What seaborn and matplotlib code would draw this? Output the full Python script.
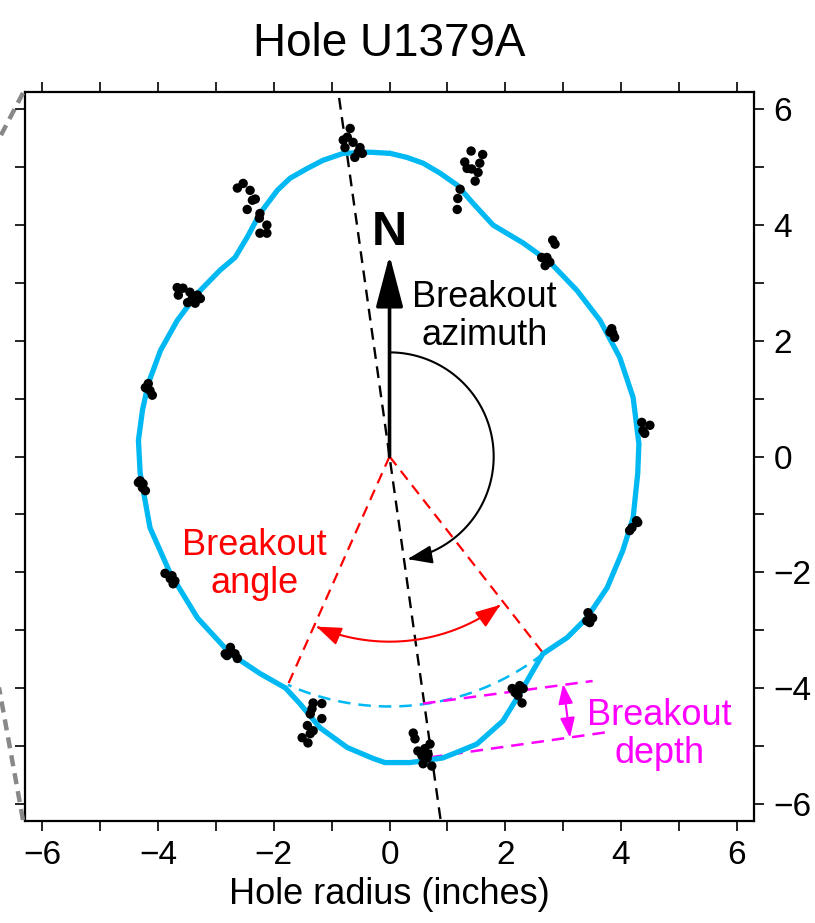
import numpy as np
import pandas as pd
import matplotlib
matplotlib.use("Agg")
import matplotlib.pyplot as plt
import seaborn as sns
from matplotlib.patches import FancyArrowPatch
from matplotlib.path import Path
from matplotlib.lines import Line2D

# ---------------- data (inches) ----------------
outline_x = [0.01, 0.30, 0.58, 0.87, 1.17, 1.44, 1.79, 2.31, 2.77, 3.24, 3.64, 3.98, 4.21,
             4.31, 4.29, 4.21, 4.03, 3.76, 3.41, 3.07, 2.65, 2.48, 2.25, 1.96, 1.51, 1.22,
             0.92, 0.58, 0.35, -0.08, -0.28, -0.73, -1.20, -1.55, -1.80, -2.24, -2.75,
             -3.32, -3.79, -4.14, -4.31, -4.34, -4.27, -4.17, -3.96, -3.67, -3.32, -2.93,
             -2.67, -2.46, -2.24, -1.94, -1.72, -1.42, -1.15, -0.80, -0.34, 0.01]
outline_y = [5.24, 5.17, 5.07, 4.90, 4.69, 4.38, 4.00, 3.69, 3.36, 2.87, 2.35, 1.71, 1.02,
             0.22, -0.29, -1.06, -1.63, -2.27, -2.79, -3.13, -3.41, -3.70, -4.10, -4.57,
             -4.97, -5.09, -5.21, -5.26, -5.29, -5.29, -5.22, -5.03, -4.69, -4.27, -4.00,
             -3.75, -3.41, -2.79, -2.02, -1.23, -0.29, 0.28, 0.80, 1.26, 1.83, 2.35, 2.82,
             3.22, 3.44, 3.79, 4.20, 4.60, 4.81, 4.98, 5.12, 5.24, 5.26, 5.24]

dots_x = [-0.68, -0.73, -0.63, -0.77, -0.51, -0.54, -0.60, -0.47, -0.80,
          -2.53, -2.63, -2.41, -2.37, -2.32, -2.46, -2.24, -2.25, -2.12, -2.24, -2.12,
          -3.67, -3.57, -3.45, -3.65, -3.49, -3.36, -3.27, -3.32, -3.41,
          -4.17, -4.22, -4.14, -4.10, -4.19,
          1.41, 1.61, 1.30, 1.56, 1.34, 1.42, 1.53, 1.48, 1.22, 1.18, 1.17,
          2.82, 2.86, 2.63, 2.72, 2.77, 2.69, 2.72,
          3.84, 3.86, 3.81, 3.89,
          4.36, 4.50, 4.38, 4.41,
          -4.31, -4.27, -4.26, -4.22, -4.34,
          -3.88, -3.76, -3.71, -3.74, -3.79,
          -2.75, -2.81, -2.67, -2.63, -2.72, -2.84,
          -1.32, -1.17, -1.34, -1.37, -1.17, -1.42, -1.32, -1.37, -1.51, -1.41,
          4.27, 4.19, 4.15, 4.29,
          3.43, 3.51, 3.46, 3.41,
          2.12, 2.25, 2.17, 2.22, 2.29, 2.31,
          0.41, 0.44, 0.49, 0.61, 0.70, 0.56, 0.65, 0.58, 0.73, 0.66]
dots_y = [5.67, 5.52, 5.43, 5.34, 5.34, 5.26, 5.17, 5.24, 5.47,
          4.72, 4.64, 4.60, 4.43, 4.45, 4.27, 4.20, 4.12, 4.00, 3.86, 3.86,
          2.92, 2.91, 2.84, 2.79, 2.66, 2.65, 2.73, 2.79, 2.73,
          1.26, 1.19, 1.14, 1.06, 1.18,
          5.28, 5.22, 5.09, 5.07, 4.98, 4.97, 4.91, 4.76, 4.62, 4.46, 4.27,
          3.74, 3.67, 3.44, 3.39, 3.36, 3.30, 3.44,
          2.21, 2.13, 2.15, 2.06,
          0.59, 0.54, 0.45, 0.40,
          -0.42, -0.54, -0.47, -0.59, -0.45,
          -2.02, -2.06, -2.15, -2.20, -2.11,
          -3.30, -3.44, -3.41, -3.49, -3.39, -3.41,
          -4.26, -4.27, -4.36, -4.45, -4.53, -4.65, -4.74, -4.79, -4.86, -4.95,
          -1.11, -1.23, -1.28, -1.14,
          -2.70, -2.79, -2.87, -2.84,
          -4.01, -3.96, -4.08, -4.13, -4.26, -4.01,
          -4.78, -4.88, -5.09, -5.05, -4.97, -5.17, -5.21, -5.31, -5.35, -5.14]

breakout_azimuth = 172.0          # degrees clockwise from north
breakout_edges = [142.0, 204.0]   # edges of breakout (degrees)
nominal_radius = 4.32             # inches
angle_arrow_radius = 3.2
azimuth_arrow_radius = 1.8
north_arrow_length = 3.48
depth_upper_x = [0.58, 3.51]
depth_upper_y = [-4.27, -3.88]
depth_lower_x = [0.70, 3.72]
depth_lower_y = [-5.20, -4.77]
depth_arrow_x = [3.00, 3.12]
depth_arrow_y = [-3.93, -4.86]

ticks = list(range(-6, 7))
tick_labels = [("\u2212" + str(abs(t)) if t < 0 else str(t)) if t % 2 == 0 else "" for t in ticks]

BLUE = "#00B8F2"
RED = "#FF0000"
MAGENTA = "#FF00FF"


def polar(az_deg, r):
    a = np.deg2rad(np.asarray(az_deg, dtype=float))
    return r * np.sin(a), r * np.cos(a)


# ---------------- style ----------------
sns.set_theme(style="ticks")
plt.rcParams["font.family"] = ["Liberation Sans", "DejaVu Sans"]
plt.rcParams["axes.unicode_minus"] = True
plt.rcParams["text.color"] = "black"
plt.rcParams["axes.labelcolor"] = "black"

fig = plt.figure(figsize=(8.15, 9.23), dpi=100)
ax = fig.add_axes([0.0307, 0.1105, 0.8945, 0.7898])

outline_df = pd.DataFrame({"x": outline_x, "y": outline_y, "i": range(len(outline_x))})
dots_df = pd.DataFrame({"x": dots_x, "y": dots_y})

DASH = (0, (5, 3.2))

# breakout azimuth dashed line
lx, ly = polar([breakout_azimuth, breakout_azimuth + 180], 8.0)
ax.plot(lx, ly, color="black", lw=1.7, ls=DASH, zorder=2)

# red dashed edges
for e in breakout_edges:
    ex, ey = polar([e, e], [0, nominal_radius])
    ax.plot(ex, ey, color=RED, lw=1.6, ls=DASH, zorder=2)

# blue dashed nominal arc
arc_az = np.linspace(breakout_edges[0], breakout_edges[1], 80)
bx, by = polar(arc_az, nominal_radius)
ax.plot(bx, by, color=BLUE, lw=1.8, ls=DASH, zorder=2)

# magenta depth lines
ax.plot(depth_upper_x, depth_upper_y, color=MAGENTA, lw=1.8, ls=DASH, zorder=2)
ax.plot(depth_lower_x, depth_lower_y, color=MAGENTA, lw=1.8, ls=DASH, zorder=2)

# caliper outline + picks
sns.lineplot(data=outline_df, x="x", y="y", sort=False, estimator=None, color=BLUE,
             lw=3.8, ax=ax, zorder=3, solid_joinstyle="round")
sns.scatterplot(data=dots_df, x="x", y="y", color="black", s=46, edgecolor="none",
                ax=ax, zorder=4, legend=False)

# north arrow
ax.annotate("", xy=(0, north_arrow_length), xytext=(0, 0),
            arrowprops=dict(arrowstyle="-|>,head_length=1.6,head_width=0.42", lw=2.6,
                            color="black", mutation_scale=20, shrinkA=0, shrinkB=0),
            zorder=5)
ax.text(0, 3.88, "N", fontsize=35, fontweight="bold", ha="center", va="center", zorder=5)

# azimuth arc arrow
az = np.linspace(0, 170, 120)
axx, ayy = polar(az, azimuth_arrow_radius)
p = FancyArrowPatch(path=Path(np.column_stack([axx, ayy])),
                    arrowstyle="-|>,head_length=0.75,head_width=0.28", mutation_scale=20,
                    lw=1.5, color="black", zorder=5)
ax.add_patch(p)

# breakout angle double arrow
az2 = np.linspace(breakout_edges[0] + 1.3, breakout_edges[1] - 0.8, 120)
rx, ry = polar(az2, angle_arrow_radius)
p2 = FancyArrowPatch(path=Path(np.column_stack([rx, ry])),
                     arrowstyle="<|-|>,head_length=0.75,head_width=0.28", mutation_scale=20,
                     lw=1.5, color=RED, zorder=5)
ax.add_patch(p2)

# depth double arrow
ax.annotate("", xy=(depth_arrow_x[1], depth_arrow_y[1]), xytext=(depth_arrow_x[0], depth_arrow_y[0]),
            arrowprops=dict(arrowstyle="<|-|>,head_length=0.6,head_width=0.22", lw=1.5,
                            color=MAGENTA, mutation_scale=20, shrinkA=0, shrinkB=0), zorder=5)

# labels
ax.text(1.64, 2.42, "Breakout\nazimuth", fontsize=26, color="black", ha="center", va="center",
        linespacing=1.1, zorder=6)
ax.text(-2.33, -1.87, "Breakout\nangle", fontsize=26, color=RED, ha="center", va="center",
        linespacing=1.1, zorder=6)
ax.text(4.67, -4.80, "Breakout\ndepth", fontsize=26, color=MAGENTA, ha="center", va="center",
        linespacing=1.1, zorder=6)

# axes cosmetics
ax.set_xlim(-6.3, 6.3)
ax.set_ylim(-6.3, 6.3)
ax.set_xticks(ticks)
ax.set_xticklabels(tick_labels)
ax.set_yticks(ticks)
ax.set_yticklabels(tick_labels)
ax.tick_params(axis="both", which="major", direction="out", length=7, width=1.2,
               labelsize=24, colors="black", top=True, bottom=True, left=True, right=True,
               labelleft=False, labelright=True, labelbottom=True, labeltop=False, pad=7)
for s in ax.spines.values():
    s.set_visible(True)
    s.set_linewidth(1.6)
    s.set_color("black")
ax.set_xlabel("Hole radius (inches)", fontsize=26, labelpad=4, color="black")
ax.set_ylabel("")
ax.set_title("Hole U1379A", fontsize=33, pad=26, color="black")
ax.grid(False)

# dashed connector lines from neighbouring panel (outside axes)
fig.add_artist(Line2D([23 / 815, -23 / 815], [1 - 93 / 923, 1 - 181 / 923],
                      transform=fig.transFigure, color="#888888", lw=3.2,
                      ls=(0, (2.5, 1.6)), clip_on=False))
fig.add_artist(Line2D([23 / 815, -23 / 815], [1 - 820 / 923, 1 - 566 / 923],
                      transform=fig.transFigure, color="#888888", lw=3.2,
                      ls=(0, (2.5, 1.6)), clip_on=False))

fig.savefig("out.png", dpi=100)
